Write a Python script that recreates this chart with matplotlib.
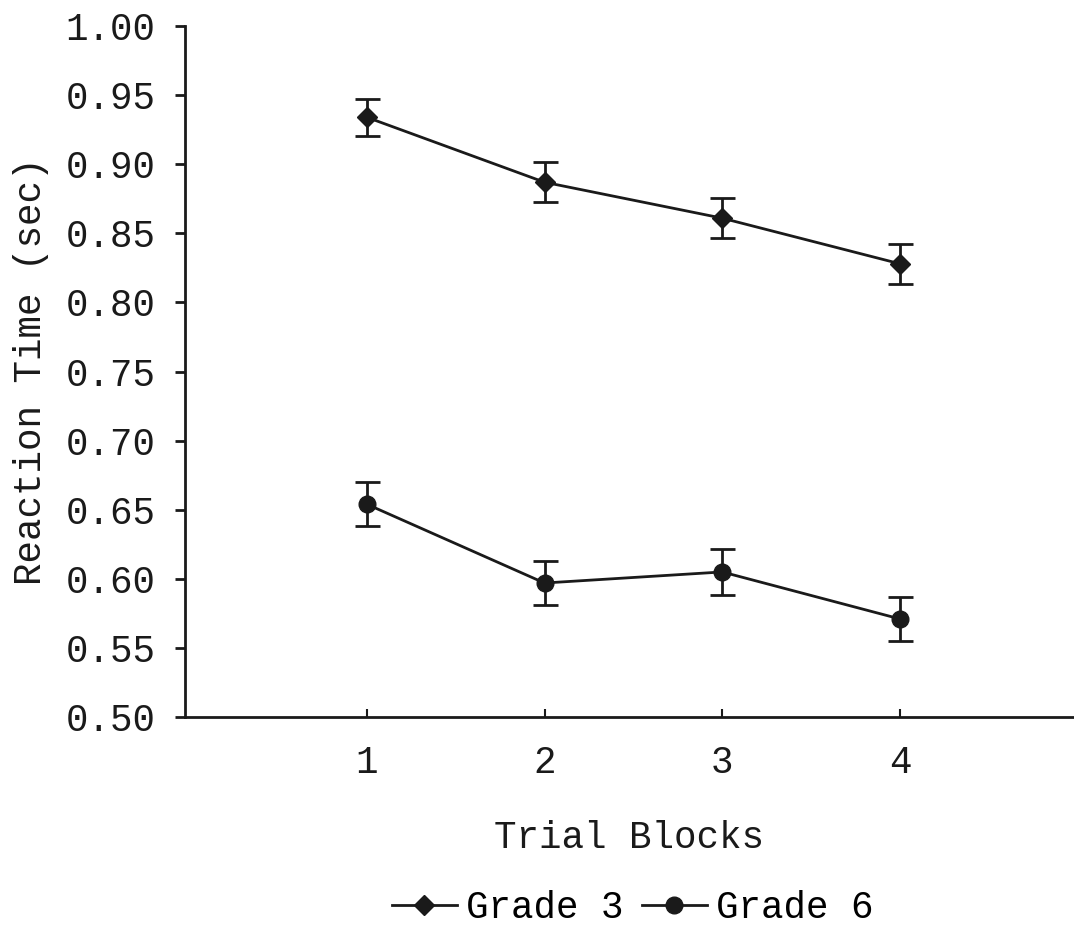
import numpy as np
import matplotlib.pyplot as plt

plt.rcParams['font.family'] = ['Liberation Mono', 'DejaVu Sans Mono']

blocks = [1, 2, 3, 4]
grade3 = [0.934, 0.887, 0.861, 0.828]
grade3_err = [0.0135, 0.0145, 0.0145, 0.0145]
grade6 = [0.654, 0.597, 0.605, 0.571]
grade6_err = [0.016, 0.016, 0.0165, 0.016]

fig = plt.figure(figsize=(10.74, 9.31), dpi=100)
ax = fig.add_axes([0.172, 0.2298, 0.828, 0.7422])

fs = 27
ax.errorbar(blocks, grade3, yerr=grade3_err, color='#1a1a1a', lw=2, marker='D',
            ms=10, capsize=9, elinewidth=2, capthick=2, label='Grade 3')
ax.errorbar(blocks, grade6, yerr=grade6_err, color='#1a1a1a', lw=2, marker='o',
            ms=12, capsize=9, elinewidth=2, capthick=2, label='Grade 6')

ax.set_xlim(-0.025, 4.98)
ax.set_ylim(0.5, 1.0)
ax.set_xticks(blocks)
yt = np.arange(0.5, 1.001, 0.05)
ax.set_yticks(yt)
ax.set_yticklabels(['%.2f' % v for v in yt])

for s in ['top', 'right']:
    ax.spines[s].set_visible(False)
for s in ['left', 'bottom']:
    ax.spines[s].set_linewidth(2)
    ax.spines[s].set_color('#1a1a1a')

ax.tick_params(axis='y', direction='out', length=7, width=2, pad=14,
               labelsize=fs, colors='#1a1a1a')
ax.tick_params(axis='x', direction='in', length=6, width=1.5, pad=20,
               labelsize=fs, colors='#1a1a1a')

ax.set_xlabel('Trial Blocks', fontsize=fs, labelpad=28, color='#1a1a1a')
ax.set_ylabel('Reaction Time (sec)', fontsize=fs, labelpad=12, color='#1a1a1a')

handles, labels = ax.get_legend_handles_labels()
handles = [h[0] for h in handles]
fig.legend(handles, labels, loc='center', bbox_to_anchor=(0.589, 0.0247),
           ncol=2, frameon=False, fontsize=fs, handlelength=1.73,
           handletextpad=0.24, columnspacing=0.5, borderpad=0)

fig.savefig('out.png', dpi=100)
